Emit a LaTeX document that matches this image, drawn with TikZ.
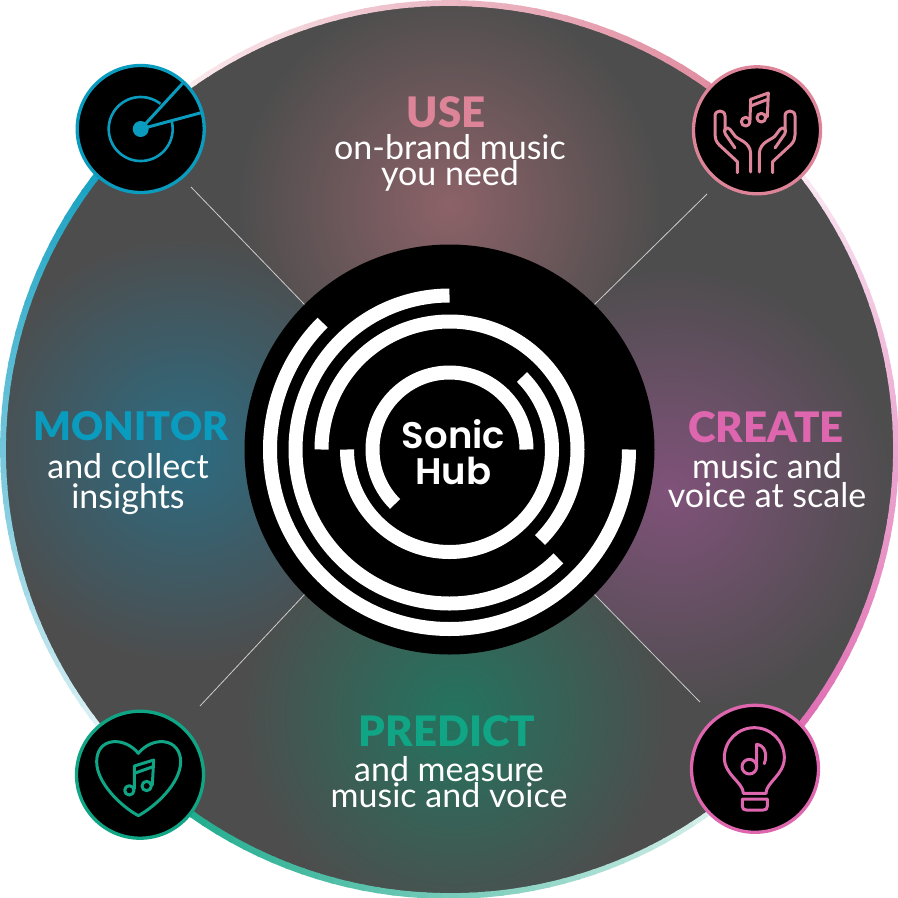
\documentclass[tikz,border=0pt]{standalone}
\usepackage{fontspec}
\setmainfont{Lato}
\newfontfamily\hubfont{Poppins SemiBold}
\newfontfamily\headfont{Lato Black}
\definecolor{cuse}{HTML}{DE8499}
\definecolor{ccreate}{HTML}{DE66AE}
\definecolor{cpredict}{HTML}{0FA585}
\definecolor{cmonitor}{HTML}{0A9CBF}
\definecolor{basegray}{HTML}{4D4D4D}
\definecolor{spotuse}{HTML}{8C6268}
\definecolor{spotcreate}{HTML}{80527A}
\definecolor{spotpredict}{HTML}{23745F}
\definecolor{spotmonitor}{HTML}{2C6C82}
\tikzset{
  cornerdisc/.style={circle,fill=black,draw=#1,line width=3.3pt,minimum size=127pt,inner sep=0pt},
  spoke/.style={draw=white!80!black,line width=0.8pt},
  ringarc/.style={draw=white,line width=14pt,line cap=butt},
  head/.style={font=\headfont\fontsize{42}{42}\selectfont,inner sep=0pt},
  body/.style={text=white,align=center,inner sep=0pt},
  icon/.style={draw=#1,line width=3pt,line cap=round,line join=round,fill=none},
}
\newcommand{\ringseg}[3]{% radius, visual start, visual end
  \draw[ringarc] (449.5,449.5) ++({-(#2)}:#1) arc[start angle={-(#2)},end angle={-(#3)},radius=#1];}
\newcommand{\rimpart}[2]{% visual start angle, colour
  \foreach \i in {0,...,44}{
    \pgfmathsetmacro{\tt}{4+96*(\i/44)^0.85}
    \pgfmathsetmacro{\aa}{#1-2*\i}
    \pgfmathsetmacro{\bb}{#1-2*\i-2.4}
    \pgfmathsetmacro{\ww}{4.5+2.5*(\i/44)}
    \draw[draw=#2!\tt!white,line width=\ww pt] (449.5,449.5) ++({-\aa}:446.5) arc[start angle={-\aa},end angle={-\bb},radius=446.5];
  }}
\newcommand{\sector}[5]{% a1, a2, spot centre, colour, radius
  \begin{scope}
    \clip (449.5,449.5) -- ++({-(#1)}:520) -- ({449.5+735*cos(#1+45)},{449.5-735*sin(#1+45)}) -- ({449.5+520*cos(#2)},{449.5-520*sin(#2)}) -- cycle;
    \clip (449.5,449.5) circle[radius=447];
    \shade[inner color=#4,outer color=basegray] #3 circle[radius=#5];
  \end{scope}}
\begin{document}
\begin{tikzpicture}[x=1pt,y=-1pt]
\useasboundingbox (0,0) rectangle (898,898);
\fill[white] (0,0) rectangle (898,898);
% main disc
\fill[basegray] (449.5,449.5) circle[radius=447];
\sector{45}{135}{(449.5,205)}{spotuse}{215}
\sector{-45}{45}{(670,490)}{spotcreate}{225}
\sector{-135}{-45}{(455,715)}{spotpredict}{215}
\sector{135}{225}{(185,450)}{spotmonitor}{215}
% rim
\rimpart{135}{cuse}
\rimpart{45}{ccreate}
\rimpart{-45}{cpredict}
\rimpart{-135}{cmonitor}
% hub
\node[circle,fill=black,minimum size=410pt,inner sep=0pt] (hub) at (449.5,449.5) {};
\ringseg{77}{0}{225}
\ringseg{102.5}{180}{405}
\ringseg{128}{180}{-45}
\ringseg{154}{90}{315}
\ringseg{179.5}{0}{-225}
\node[font=\hubfont\fontsize{37}{36}\selectfont,text=white,align=center,inner sep=0pt] (hubtext) at (453.5,452) {Sonic\\Hub};
% spokes
\coordinate (tlend) at (191,187);
\coordinate (trend) at (707,194);
\coordinate (blend) at (200,706);
\coordinate (brend) at (700,702);
\draw[spoke] (hub.135) -- (tlend);
\draw[spoke] (hub.45) -- (trend);
\draw[spoke] (hub.225) -- (blend);
\draw[spoke] (hub.-45) -- (brend);
% corner discs
\node[cornerdisc=cmonitor] (cmon) at (140.7,129) {};
\node[cornerdisc=cuse] (cuseicon) at (757,130.3) {};
\node[cornerdisc=ccreate] (ccre) at (755,768.8) {};
\node[cornerdisc=cpredict] (cpre) at (140,774.7) {};
% radar icon
\fill[cmonitor] (cmon.center) circle[radius=8];
\draw[cmonitor,line width=2.6pt] (cmon.center) ++(-52:32) arc[start angle=-52,end angle=-374,radius=32];
\coordinate (needlea) at (182.7,83.3);
\coordinate (needleb) at (202.7,112.3);
\draw[cmonitor,line width=3pt] (cmon.center) -- (needlea);
\draw[cmonitor,line width=3pt] (cmon.center) -- (needleb);
% hands icon
\begin{scope}[shift={(680,60)},scale=1/3]
  \tikzset{every path/.style={icon=cuse}}
  \draw (172,338) -- (172,305) -- (118,255) .. controls (108,245) and (105,235) .. (105,225) -- (105,168) .. controls (105,148) and (135,148) .. (135,168) -- (135,212);
  \draw (165,264) -- (136,222) .. controls (128,208) and (140,198) .. (150,208) -- (165,228) .. controls (175,240) and (210,245) .. (212,280) -- (212,336);
  \draw (278,338) -- (278,305) -- (332,255) .. controls (342,245) and (345,235) .. (345,225) -- (345,168) .. controls (345,148) and (315,148) .. (315,168) -- (315,212);
  \draw (285,264) -- (314,222) .. controls (322,208) and (310,198) .. (300,208) -- (285,228) .. controls (275,240) and (240,245) .. (238,280) -- (238,336);
  \draw (197,185) circle[radius=13];
  \draw (244,173) circle[radius=13];
  \draw (210,180) -- (212,118) -- (265,99) -- (262,170);
  \draw (212,138) -- (263,118);
\end{scope}
% bulb icon
\begin{scope}[shift={(680,695)},scale=1/3]
  \tikzset{every path/.style={icon=ccreate}}
  \draw (190,295) .. controls (190,262) and (133,240) .. (133,188) .. controls (133,138) and (173,98) .. (223,98) .. controls (273,98) and (313,138) .. (313,188) .. controls (313,240) and (258,262) .. (258,295) -- cycle;
  \draw (187,312) -- (262,312) -- (262,333) .. controls (262,342) and (258,345) .. (250,345) -- (199,345) .. controls (191,345) and (187,342) .. (187,333) -- cycle;
  \draw (208,215) circle[radius=22];
  \draw (230,215) -- (230,148) .. controls (252,150) and (264,175) .. (253,206);
\end{scope}
% heart icon
\begin{scope}[shift={(65,700)},scale=1/3]
  \tikzset{every path/.style={icon=cpredict}}
  \draw (220,160) .. controls (200,135) and (170,123) .. (145,125) .. controls (110,128) and (95,155) .. (95,185) .. controls (95,250) and (170,320) .. (220,347) .. controls (270,320) and (347,250) .. (347,185) .. controls (347,155) and (330,128) .. (295,125) .. controls (270,123) and (240,135) .. (220,160) -- cycle;
  \draw (193,271) circle[radius=14];
  \draw (245,258) circle[radius=14];
  \draw (208,266) -- (208,198) -- (266,180) -- (262,255);
  \draw (208,220) -- (264,200);
\end{scope}
% labels
\node[head,text=cuse] (usehead) at (446,112) {USE};
\node[body,font=\fontsize{34}{26}\selectfont] (usebody) at (450,163) {on-brand music\\you need};
\node[head,text=ccreate] (crehead) at (766,427) {CREATE};
\node[body,font=\fontsize{34}{29}\selectfont] (crebody) at (767,481) {music and\\voice at scale};
\node[head,text=cpredict] (prehead) at (447,731) {PREDICT};
\node[body,font=\fontsize{34}{26}\selectfont] (prebody) at (449,782) {and measure\\music and voice};
\node[head,text=cmonitor,font=\headfont\fontsize{39.5}{42}\selectfont] (monhead) at (131,426) {MONITOR};
\node[body,font=\fontsize{34}{30}\selectfont] (monbody) at (128,484) {and collect\\insights};
\end{tikzpicture}
\end{document}
